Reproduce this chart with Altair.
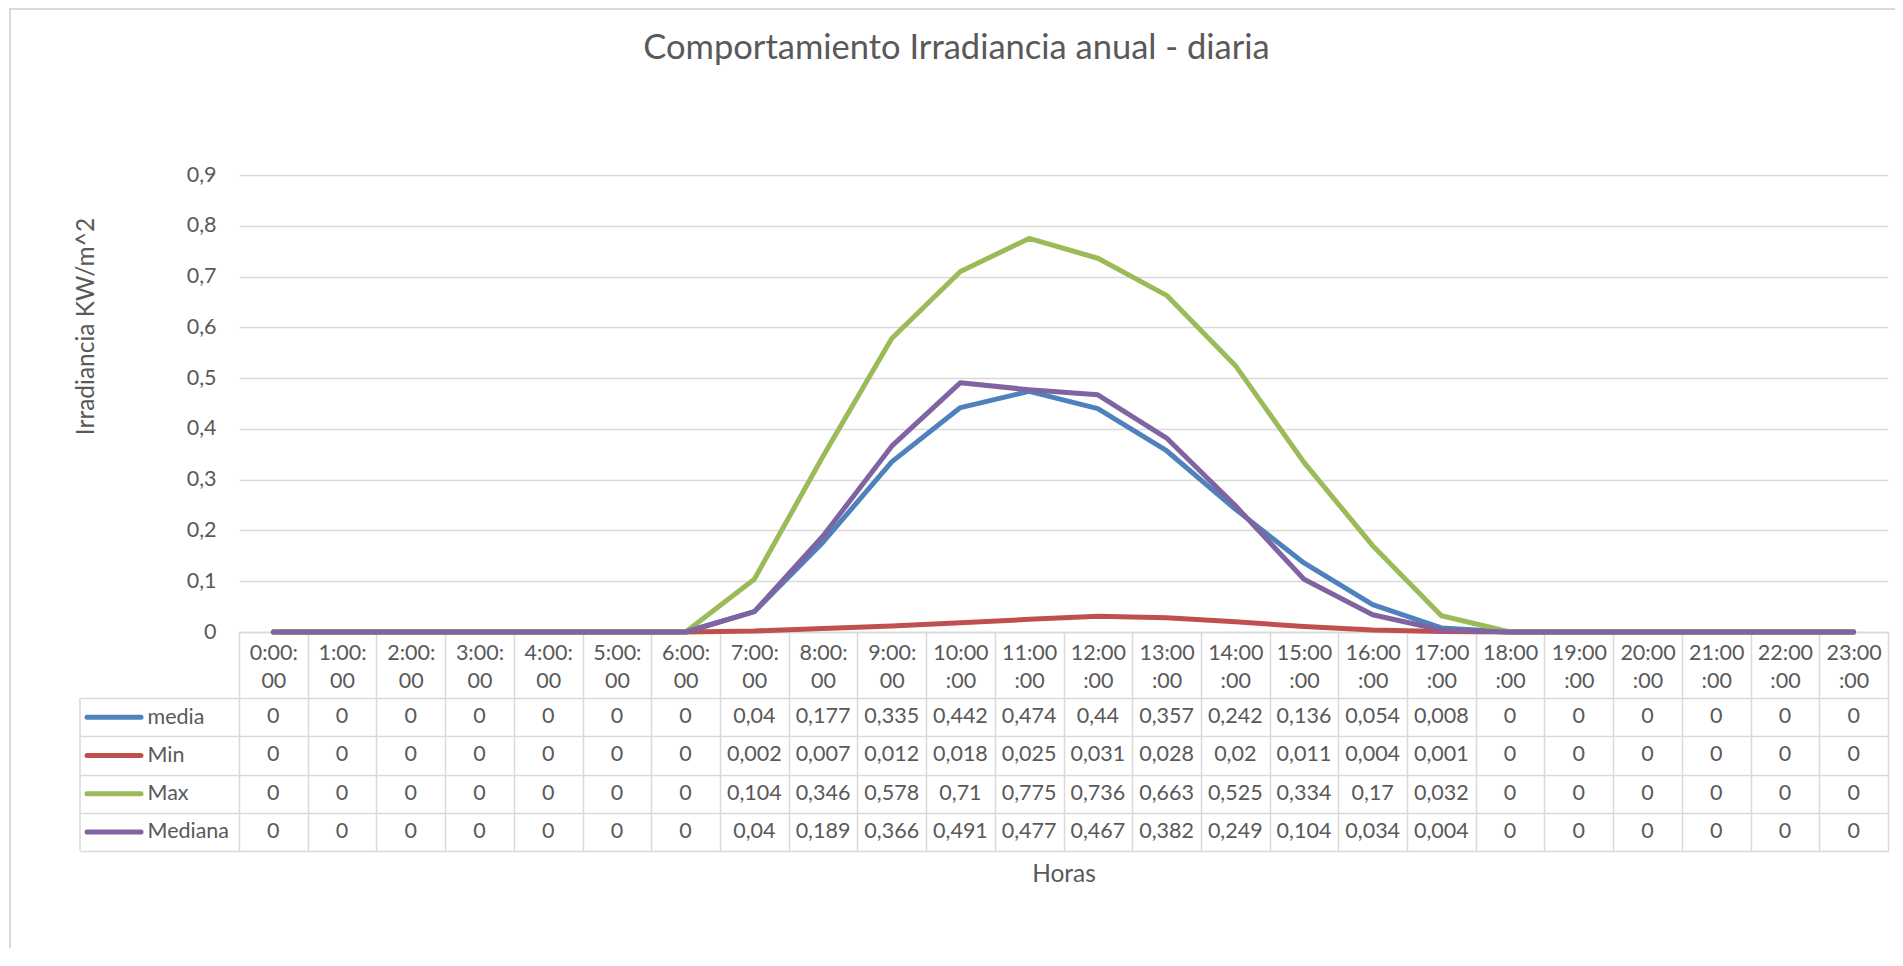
import altair as alt
import pandas as pd

# ---------------- data ----------------
horas = ["0:00:00", "1:00:00", "2:00:00", "3:00:00", "4:00:00", "5:00:00",
         "6:00:00", "7:00:00", "8:00:00", "9:00:00", "10:00:00", "11:00:00",
         "12:00:00", "13:00:00", "14:00:00", "15:00:00", "16:00:00", "17:00:00",
         "18:00:00", "19:00:00", "20:00:00", "21:00:00", "22:00:00", "23:00:00"]
series = ["media", "Min", "Max", "Mediana"]
colores = ["#4F81BD", "#C0504D", "#9BBB59", "#8064A2"]

media = [0, 0, 0, 0, 0, 0, 0, 0.04, 0.177, 0.335, 0.442, 0.474, 0.44, 0.357,
         0.242, 0.136, 0.054, 0.008, 0, 0, 0, 0, 0, 0]
minimo = [0, 0, 0, 0, 0, 0, 0, 0.002, 0.007, 0.012, 0.018, 0.025, 0.031, 0.028,
          0.02, 0.011, 0.004, 0.001, 0, 0, 0, 0, 0, 0]
maximo = [0, 0, 0, 0, 0, 0, 0, 0.104, 0.346, 0.578, 0.71, 0.775, 0.736, 0.663,
          0.525, 0.334, 0.17, 0.032, 0, 0, 0, 0, 0, 0]
mediana = [0, 0, 0, 0, 0, 0, 0, 0.04, 0.189, 0.366, 0.491, 0.477, 0.467, 0.382,
           0.249, 0.104, 0.034, 0.004, 0, 0, 0, 0, 0, 0]
y_ticks = [0, 0.1, 0.2, 0.3, 0.4, 0.5, 0.6, 0.7, 0.8, 0.9]

titulo = "Comportamiento Irradiancia anual - diaria"
titulo_y = "Irradiancia KW/m^2"
titulo_x = "Horas"

rows = []
for s, vals in zip(series, [media, minimo, maximo, mediana]):
    for h, v in zip(horas, vals):
        rows.append({"hora": h, "serie": s, "valor": v})
df = pd.DataFrame(rows)

# ---------------- style ----------------
FONT = "Lato"
TXT = "#595959"
GRID = "#D9D9D9"
FS = 21.5
FT = 24.5
W, H = 1649, 457

color_scale = alt.Scale(domain=series, range=colores)
x_scale = alt.Scale(type="band", domain=horas, paddingInner=0, paddingOuter=0)
x_axis = alt.Axis(
    orient="bottom", title=titulo_x, tickBand="extent", ticks=True, tickSize=219,
    tickColor=GRID, tickWidth=1.5, domain=True, domainColor=GRID, domainWidth=1.5,
    grid=False, labelAngle=0,
    labelExpr="[substring(datum.label, 0, 5), substring(datum.label, 5)]",
    labelBaseline="middle", labelPadding=-198, labelLineHeight=28,
    labelFontSize=FS, labelColor=TXT, labelFont=FONT, labelOverlap=False,
    labelFlush=False, titleFont=FONT, titleFontSize=FT, titleColor=TXT,
    titleFontWeight="normal", titleY=242, titleBaseline="middle")

y_axis = alt.Axis(
    orient="left", values=y_ticks,
    labelExpr="replace(format(datum.value, '.1~f'), '.', ',')",
    grid=True, gridColor=GRID, gridWidth=1.3, ticks=False, domain=False,
    labelPadding=23, labelFontSize=FS, labelColor=TXT, labelFont=FONT,
    title=titulo_y, titleFont=FONT, titleFontSize=FT, titleColor=TXT,
    titleFontWeight="normal", titleX=-153, titleY=151, titleAngle=270,
    titleAlign="center", titleBaseline="middle")

row_scale = alt.Scale(type="band", domain=series, range=[523, 676],
                      paddingInner=0, paddingOuter=0)
row_axis = alt.Axis(
    orient="left", tickBand="extent", ticks=True, tickSize=159, tickColor=GRID,
    tickWidth=1.5, grid=True, gridColor=GRID, gridWidth=1.5, domain=False,
    labelAlign="left", labelBaseline="middle", labelPadding=-67,
    labelFontSize=FS, labelColor=TXT, labelFont=FONT, title=None)

X = alt.X("hora:N", sort=horas, scale=x_scale, axis=x_axis, bandPosition=0.5)

# ---------------- lines ----------------
line_layers = []
for s in series:
    line_layers.append(
        alt.Chart(df).transform_filter(alt.datum.serie == s)
        .mark_line(strokeWidth=5, strokeCap="round", strokeJoin="round")
        .encode(
            x=X,
            y=alt.Y("valor:Q", scale=alt.Scale(domain=[0, 0.9], nice=False),
                    axis=y_axis),
            color=alt.Color("serie:N", scale=color_scale, legend=None),
        )
    )
main = alt.layer(*line_layers)

# ---------------- data table ----------------
ROWY = alt.Y("serie:N", sort=series, scale=row_scale, axis=row_axis, bandPosition=0.5)

tabla_txt = (
    alt.Chart(df)
    .transform_calculate(txt="replace('' + datum.valor, '.', ',')")
    .mark_text(font=FONT, fontSize=FS, color=TXT)
    .encode(x=X, y=ROWY, text="txt:N")
)
muestras = (
    alt.Chart(pd.DataFrame({"serie": series}))
    .mark_rule(strokeWidth=5, strokeCap="round")
    .encode(x=alt.value(-152), x2=alt.value(-98), y=ROWY,
            color=alt.Color("serie:N", scale=color_scale, legend=None))
)
borde = (
    alt.Chart(pd.DataFrame({"a": [0]}))
    .mark_rule(color=GRID, strokeWidth=1.5)
    .encode(x=alt.value(-159), y=alt.value(523), y2=alt.value(676))
)
tabla = alt.layer(muestras, tabla_txt, borde)

# chart frame (left and top edges)
marco_izq = (
    alt.Chart(pd.DataFrame({"a": [0]}))
    .mark_rule(color=GRID, strokeWidth=2)
    .encode(x=alt.value(-229), y=alt.value(-167), y2=alt.value(780))
)
marco_sup = (
    alt.Chart(pd.DataFrame({"a": [0]}))
    .mark_rule(color=GRID, strokeWidth=2)
    .encode(x=alt.value(-229), x2=alt.value(W + 10), y=alt.value(-166))
)

chart = (
    alt.layer(main, tabla, marco_izq, marco_sup)
    .resolve_scale(y="independent")
    .resolve_axis(y="independent")
    .properties(
        width=W, height=H,
        autosize=alt.AutoSizeParams(type="none"),
        padding={"left": 231, "top": 167, "right": 7, "bottom": 316},
        title=alt.TitleParams(text=titulo, font=FONT, fontSize=34.5,
                              fontWeight="normal", color=TXT, anchor="middle",
                              frame="group", dx=-107, offset=-86,
                              baseline="alphabetic"),
        background="white",
    )
    .configure_view(stroke=None)
)

chart.save("out.html", embed_options={"renderer": "svg", "actions": False})
